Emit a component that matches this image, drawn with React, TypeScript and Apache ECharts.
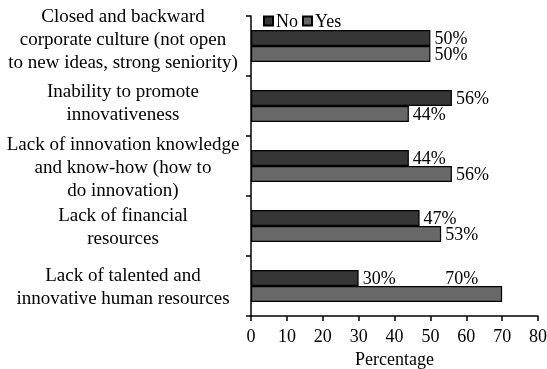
import React, { useEffect, useRef } from "react";
import * as echarts from "echarts";

const categories = [
  "Closed and backward\ncorporate culture (not open\nto new ideas, strong seniority)",
  "Inability to promote\ninnovativeness",
  "Lack of innovation knowledge\nand know-how (how to\ndo innovation)",
  "Lack of financial\nresources",
  "Lack of talented and\ninnovative human resources",
];
const noValues = [50, 56, 44, 47, 30];
const yesValues = [50, 44, 56, 53, 70];
const xTicks = { min: 0, max: 80, interval: 10 };

const FONT = "Times New Roman, Tinos, Liberation Serif, DejaVu Serif, serif";

export default function App() {
  const ref = useRef<HTMLDivElement>(null);
  useEffect(() => {
    if (!ref.current) return;
    const chart = echarts.init(ref.current, undefined, { renderer: "svg" });
    const labelBase = {
      show: true,
      position: "right" as const,
      distance: 4,
      formatter: "{c}%",
      color: "#000",
      fontFamily: FONT,
      fontSize: 18,
    };
    // extra blank space under some labels, to lift them slightly as in the reference
    const labelLift = ["s16", "s8", "", "", ""];
    chart.setOption({
      animation: false,
      textStyle: { fontFamily: FONT },
      legend: {
        left: 258,
        top: 7,
        itemWidth: 9,
        itemHeight: 9,
        itemGap: 4,
        icon: "rect",
        textStyle: { fontFamily: FONT, fontSize: 18, color: "#000", padding: [0, 0, 0, -2] },
        data: ["No", "Yes"],
      },
      grid: {
        left: 251,
        right: 9,
        top: 16,
        bottom: 53,
        containLabel: false,
        outerBoundsMode: "none",
      },
      xAxis: {
        type: "value",
        min: xTicks.min,
        max: xTicks.max,
        interval: xTicks.interval,
        name: "Percentage",
        nameLocation: "middle",
        nameGap: 30,
        nameTextStyle: { fontFamily: FONT, fontSize: 18, color: "#000" },
        axisLine: { show: true, lineStyle: { color: "#000", width: 1.5 } },
        axisTick: { show: true, length: 5, lineStyle: { color: "#000", width: 1.5 } },
        axisLabel: { fontFamily: FONT, fontSize: 18, color: "#000", margin: 11, hideOverlap: false },
        splitLine: { show: false },
      },
      yAxis: {
        type: "category",
        inverse: true,
        data: categories,
        axisLine: { show: true, lineStyle: { color: "#000", width: 1.5 } },
        axisTick: { show: true, length: 5, lineStyle: { color: "#000", width: 1.5 } },
        axisLabel: {
          fontFamily: FONT,
          fontSize: 19,
          color: "#000",
          align: "center",
          lineHeight: 23,
          margin: 128,
          interval: 0,
          hideOverlap: false,
          formatter: (value: string, index: number) =>
            labelLift[index] ? value + "\n{" + labelLift[index] + "| }" : value,
          rich: {
            s16: { lineHeight: 16, fontSize: 2 },
            s8: { lineHeight: 8, fontSize: 2 },
          },
        },
      },
      series: [
        {
          name: "No",
          type: "bar",
          data: noValues,
          barWidth: 16,
          barGap: "0%",
          itemStyle: { color: "#363636", borderColor: "#000", borderWidth: 1.2 },
          label: labelBase,
        },
        {
          name: "Yes",
          type: "bar",
          data: yesValues.map((v, i) =>
            i === yesValues.length - 1
              ? {
                  value: v,
                  label: {
                    position: "insideTopRight",
                    offset: [-20, -21],
                  },
                }
              : v
          ),
          barWidth: 16,
          barGap: "0%",
          itemStyle: { color: "#686868", borderColor: "#000", borderWidth: 1.2 },
          label: labelBase,
        },
      ],
    });
    return () => chart.dispose();
  }, []);
  return (
    <div
      ref={ref}
      style={{ position: "fixed", left: 0, top: 0, width: 547, height: 369 }}
    />
  );
}
